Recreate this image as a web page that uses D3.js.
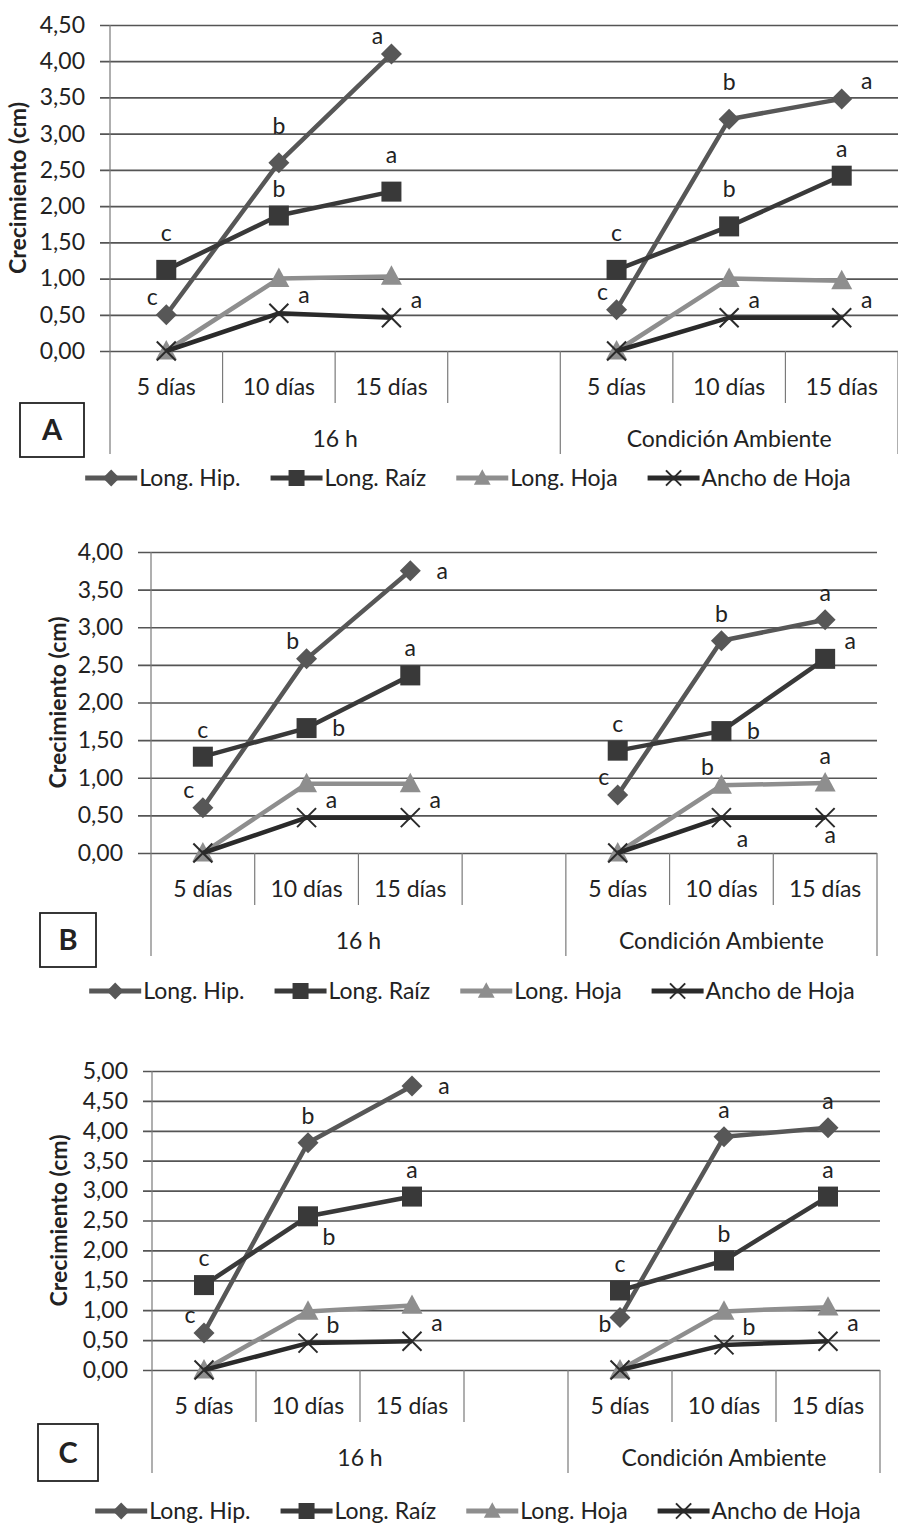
<!DOCTYPE html>
<html>
<head>
<meta charset="utf-8">
<script src="https://cdn.jsdelivr.net/npm/d3@7"></script>
<style>
  body { margin: 0; background: #fff; }
  svg text { font-family: Lato, 'Liberation Sans', sans-serif; fill: #222; }
</style>
</head>
<body>
<div id="graf"></div>
<script>
// categorias del eje x (7 ranuras, la 4a vacia)
const ranuras = ['h5', 'h10', 'h15', 'hx', 'c5', 'c10', 'c15']
const etiquetasDias = ['5 días', '10 días', '15 días', '', '5 días', '10 días', '15 días']
const grupos = ['16 h', 'Condición Ambiente']
const puntos = ['h5', 'h10', 'h15', 'c5', 'c10', 'c15']
const nombres = ['Long. Hip.', 'Long. Raíz', 'Long. Hoja', 'Ancho de Hoja']
const paneles = ['A', 'B', 'C']

// panel A
const hipA = [0.50, 2.60, 4.10, 0.57, 3.20, 3.48]
const raizA = [1.12, 1.87, 2.20, 1.12, 1.72, 2.42]
const hojaA = [0, 1.00, 1.03, 0, 1.00, 0.97]
const anchoA = [0, 0.52, 0.46, 0, 0.46, 0.46]
const ticksA = [0, 0.5, 1, 1.5, 2, 2.5, 3, 3.5, 4, 4.5]

// panel B
const hipB = [0.60, 2.58, 3.75, 0.77, 2.82, 3.10]
const raizB = [1.28, 1.66, 2.36, 1.36, 1.62, 2.58]
const hojaB = [0, 0.92, 0.92, 0, 0.90, 0.93]
const anchoB = [0, 0.47, 0.47, 0, 0.47, 0.47]
const ticksB = [0, 0.5, 1, 1.5, 2, 2.5, 3, 3.5, 4]

// panel C
const hipC = [0.62, 3.80, 4.75, 0.88, 3.90, 4.05]
const raizC = [1.42, 2.57, 2.90, 1.33, 1.83, 2.90]
const hojaC = [0, 0.98, 1.08, 0, 0.98, 1.05]
const anchoC = [0, 0.45, 0.48, 0, 0.42, 0.48]
const ticksC = [0, 0.5, 1, 1.5, 2, 2.5, 3, 3.5, 4, 4.5, 5]

// letras de significancia (null = sin letra)
const letHipA = ['c', 'b', 'a', 'c', 'b', 'a']
const letRaizA = ['c', 'b', 'a', 'c', 'b', 'a']
const letHojaA = [null, null, null, null, null, null]
const letAnchoA = [null, 'a', 'a', null, 'a', 'a']
const letHipB = ['c', 'b', 'a', 'c', 'b', 'a']
const letRaizB = ['c', 'b', 'a', 'c', 'b', 'a']
const letHojaB = [null, null, null, null, 'b', 'a']
const letAnchoB = [null, 'a', 'a', null, 'a', 'a']
const letHipC = ['c', 'b', 'a', 'b', 'a', 'a']
const letRaizC = ['c', 'b', 'a', 'c', 'b', 'a']
const letHojaC = [null, null, null, null, null, null]
const letAnchoC = [null, 'b', 'a', null, 'b', 'a']

// donde va cada letra respecto al punto
const posHipA = ['nw', 'N', 'nw', 'nw', 'N', 'ne']
const posRaizA = ['N', 'n', 'N', 'N', 'N', 'n']
const posHojaA = [null, null, null, null, null, null]
const posAnchoA = [null, 'ne', 'ne', null, 'ne', 'ne']
const posHipB = ['nw', 'nw', 'e', 'nw', 'n', 'n']
const posRaizB = ['n', 'e', 'n', 'n', 'e', 'ne']
const posHojaB = [null, null, null, null, 'nw', 'n']
const posAnchoB = [null, 'ne', 'ne', null, 'se', 's']
const posHipC = ['nw', 'n', 'e', 'w', 'n', 'n']
const posRaizC = ['n', 'se', 'n', 'n', 'n', 'n']
const posHojaC = [null, null, null, null, null, null]
const posAnchoC = [null, 'ne', 'ne', null, 'ne', 'ne']

const desplaza = {
  n: [0, -27], N: [0, -37], nw: [-14, -18], ne: [25, -18],
  e: [32, 0], se: [21, 21], s: [5, 17], w: [-15, 7],
}

const colores = ['#575757', '#393939', '#8e8e8e', '#2a2a2a']
const formato = d3.formatLocale({ decimal: ',', thousands: '.', grouping: [3], currency: ['', ''] }).format('.2f')

const config = [
  { top: 25, bottom: 351, left: 110, right: 898, gridStart: 100, ticks: ticksA, titleX: 18,
    box: [20, 403, 64, 54], legendY: 478, legendCx: 468,
    datos: [hipA, raizA, hojaA, anchoA], letras: [letHipA, letRaizA, letHojaA, letAnchoA],
    pos: [posHipA, posRaizA, posHojaA, posAnchoA] },
  { top: 552, bottom: 853, left: 151, right: 877, gridStart: 138, ticks: ticksB, titleX: 58,
    box: [40, 913, 56, 54], legendY: 991, legendCx: 472,
    datos: [hipB, raizB, hojaB, anchoB], letras: [letHipB, letRaizB, letHojaB, letAnchoB],
    pos: [posHipB, posRaizB, posHojaB, posAnchoB] },
  { top: 1071, bottom: 1370, left: 152, right: 880, gridStart: 143, ticks: ticksC, titleX: 59,
    box: [38, 1424, 60, 57], legendY: 1511, legendCx: 478,
    datos: [hipC, raizC, hojaC, anchoC], letras: [letHipC, letRaizC, letHojaC, letAnchoC],
    pos: [posHipC, posRaizC, posHojaC, posAnchoC] },
]

const svg = d3.select('#graf')
  .append('svg')
  .attr('width', 898)
  .attr('height', 1525)

function marcador(sel, tipo, k) {
  const c = colores[tipo]
  if (tipo === 0) {
    const r = 10.5 * k
    sel.append('path').attr('d', `M0,${-r}L${r},0L0,${r}L${-r},0Z`).attr('fill', c)
  } else if (tipo === 1) {
    const s = 10 * k
    sel.append('rect').attr('x', -s).attr('y', -s).attr('width', 2 * s).attr('height', 2 * s).attr('fill', c)
  } else if (tipo === 2) {
    const s = 10.5 * k
    sel.append('path').attr('d', `M0,${-s * 1.05}L${s},${s * 0.8}L${-s},${s * 0.8}Z`).attr('fill', c)
  } else {
    const s = 9.5 * k
    sel.append('path').attr('d', `M${-s},${-s}L${s},${s}M${-s},${s}L${s},${-s}`)
      .attr('stroke', c).attr('stroke-width', 2).attr('fill', 'none')
  }
}

function panel(cfg, idx) {
  const g = svg.append('g')
  const x = d3.scaleBand().domain(ranuras).range([cfg.left, cfg.right])
  const y = d3.scaleLinear().domain([0, d3.max(cfg.ticks)]).range([cfg.bottom, cfg.top])
  const bw = x.bandwidth()

  // lineas de cuadricula + etiquetas del eje y
  const ejeY = g.append('g')
    .attr('transform', `translate(${cfg.right},0)`)
    .call(d3.axisLeft(y).tickValues(cfg.ticks).tickSize(cfg.right - cfg.gridStart).tickPadding(15).tickFormat(formato))
  ejeY.select('.domain').remove()
  ejeY.selectAll('line').attr('stroke', '#555').attr('stroke-width', 1.7)
  ejeY.selectAll('text').attr('font-size', 23).attr('fill', '#222').attr('font-family', "Lato, 'Liberation Sans', sans-serif")

  // eje vertical izquierdo y separadores de categoria
  const y0 = cfg.bottom
  const bordes = ranuras.map((d) => x(d)).concat([cfg.right])
  g.selectAll('.sep')
    .data(bordes)
    .join('line')
    .attr('x1', (d) => d).attr('x2', (d) => d)
    .attr('y1', (d, i) => (i === 0 ? cfg.top : y0))
    .attr('y2', (d, i) => (i === 0 || i === 4 || i === 7 ? y0 + 103 : y0 + 52))
    .attr('stroke', '#7a7a7a')
    .attr('stroke-width', 1.2)

  // etiquetas de dias
  g.selectAll('.dia')
    .data(etiquetasDias)
    .join('text')
    .attr('x', (d, i) => x(ranuras[i]) + bw / 2)
    .attr('y', y0 + 36)
    .attr('dy', '0.35em')
    .attr('text-anchor', 'middle')
    .attr('font-size', 23)
    .text((d) => d)

  // etiquetas de grupo
  g.selectAll('.grupo')
    .data(grupos)
    .join('text')
    .attr('x', (d, i) => (i === 0 ? x('h5') + 2 * bw : x('c5') + 1.5 * bw))
    .attr('y', y0 + 88)
    .attr('dy', '0.35em')
    .attr('text-anchor', 'middle')
    .attr('font-size', 23)
    .text((d) => d)

  // titulo eje y
  g.append('text')
    .attr('transform', `translate(${cfg.titleX},${(cfg.top + cfg.bottom) / 2}) rotate(-90)`)
    .attr('text-anchor', 'middle')
    .attr('dy', '0.35em')
    .attr('font-size', 23)
    .attr('font-weight', 'bold')
    .text('Crecimiento (cm)')

  // caja con letra del panel
  g.append('rect')
    .attr('x', cfg.box[0]).attr('y', cfg.box[1])
    .attr('width', cfg.box[2]).attr('height', cfg.box[3])
    .attr('fill', '#fff').attr('stroke', '#222').attr('stroke-width', 1.8)
  g.append('text')
    .attr('x', cfg.box[0] + cfg.box[2] / 2)
    .attr('y', cfg.box[1] + cfg.box[3] / 2)
    .attr('dy', '0.36em')
    .attr('text-anchor', 'middle')
    .attr('font-size', 29)
    .attr('font-weight', 'bold')
    .text(paneles[idx])

  // series
  const linea = d3.line().x((d) => x(d.k) + bw / 2).y((d) => y(d.v))
  cfg.datos.forEach((vals, s) => {
    const pts = vals.map((v, i) => ({ k: puntos[i], v: v, l: cfg.letras[s][i], p: cfg.pos[s][i] }))
    const tramos = [pts.slice(0, 3), pts.slice(3)]
    g.selectAll(null)
      .data(tramos)
      .join('path')
      .attr('d', linea)
      .attr('fill', 'none')
      .attr('stroke', colores[s])
      .attr('stroke-width', 4.5)
      .attr('stroke-linejoin', 'round')

    g.selectAll(null)
      .data(pts)
      .join('g')
      .attr('transform', (d) => `translate(${x(d.k) + bw / 2},${y(d.v)})`)
      .each(function () { marcador(d3.select(this), s, 1) })

    g.selectAll(null)
      .data(pts.filter((d) => d.l))
      .join('text')
      .attr('x', (d) => x(d.k) + bw / 2 + desplaza[d.p][0])
      .attr('y', (d) => y(d.v) + desplaza[d.p][1])
      .attr('dy', '0.35em')
      .attr('text-anchor', 'middle')
      .attr('font-size', 23)
      .text((d) => d.l)
  })

  // leyenda
  const ley = g.append('g')
  const largo = 52
  const hueco = 30
  let cursor = 0
  nombres.forEach((n, s) => {
    const it = ley.append('g').attr('transform', `translate(${cursor},0)`)
    it.append('line').attr('x1', 0).attr('x2', largo)
      .attr('stroke', colores[s]).attr('stroke-width', 5)
    const m = it.append('g').attr('transform', `translate(${largo / 2},0)`)
    marcador(m, s, 0.8)
    const t = it.append('text').attr('x', largo + 2).attr('dy', '0.35em').attr('font-size', 23).text(n)
    cursor += largo + 2 + t.node().getComputedTextLength() + hueco
  })
  cursor -= hueco
  ley.attr('transform', `translate(${cfg.legendCx - cursor / 2},${cfg.legendY})`)
}

config.forEach((c, i) => panel(c, i))
</script>
</body>
</html>
